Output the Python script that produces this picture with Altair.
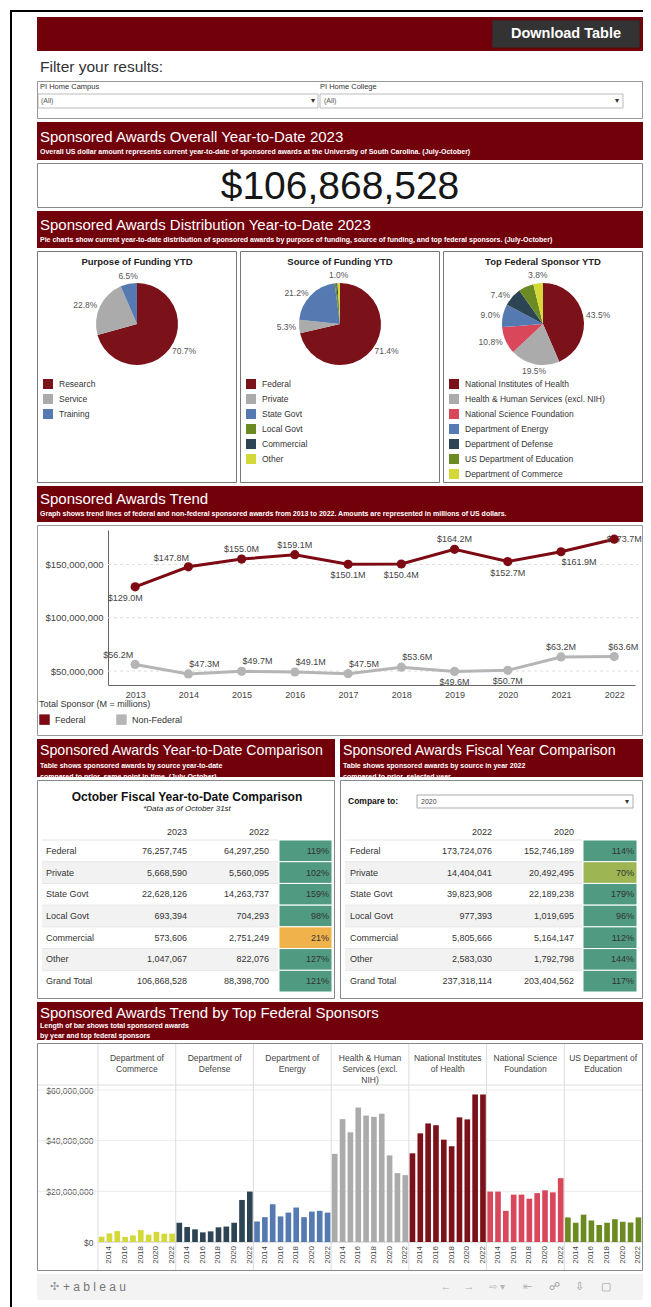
import altair as alt
import pandas as pd

FONT = "Liberation Sans"
MAROON = "#72000b"
TXT = "#333333"
W = 606

# ---------------- data ----------------
overall_ytd = "$106,868,528"

purpose_cats = ["Research", "Service", "Training"]
purpose_pct = [70.7, 22.8, 6.5]
purpose_hidden = []

source_cats = ["Federal", "Private", "State Govt", "Local Govt", "Commercial", "Other"]
source_pct = [71.4, 5.3, 21.2, 0.6, 0.5, 1.0]
source_hidden = ["Local Govt", "Commercial"]

sponsor_cats = ["National Institutes of Health", "Health & Human Services (excl. NIH)",
                "National Science Foundation", "Department of Energy", "Department of Defense",
                "US Department of Education", "Department of Commerce"]
sponsor_pct = [43.5, 19.5, 10.8, 9.0, 7.4, 6.0, 3.8]
sponsor_hidden = ["US Department of Education"]

trend_years = list(range(2013, 2023))
federal_m = [129.0, 147.8, 155.0, 159.1, 150.1, 150.4, 164.2, 152.7, 161.9, 173.7]
nonfederal_m = [56.2, 47.3, 49.7, 49.1, 47.5, 53.6, 49.6, 50.7, 63.2, 63.6]
# label placement (style) for each point
fed_label_place = ["below_left", "above_left", "above", "above", "below", "below", "above", "below", "below_right", "right"]
nonfed_label_place = ["above_left", "above_right", "above_right", "above_right", "above_right", "above_right", "below", "below", "above", "above_right_s"]
place_offsets = {"above": (0, -10), "below": (0, 11), "above_left": (-17, -9), "above_right": (16, -10),
                 "below_left": (-10, 11), "below_right": (18, 10), "right": (10, 0), "above_right_s": (9, -10)}

table_rows = ["Federal", "Private", "State Govt", "Local Govt", "Commercial", "Other", "Grand Total"]
ytd_heads = ["2023", "2022"]
ytd_2023 = [76257745, 5668590, 22628126, 693394, 573606, 1047067, 106868528]
ytd_2022 = [64297250, 5560095, 14263737, 704293, 2751249, 822076, 88398700]
ytd_pct = [119, 102, 159, 98, 21, 127, 121]
fy_heads = ["2022", "2020"]
fy_2022 = [173724076, 14404041, 39823908, 977393, 5805666, 2583030, 237318114]
fy_2020 = [152746189, 20492495, 22189238, 1019695, 5164147, 1792798, 203404562]
fy_pct = [114, 70, 179, 96, 112, 144, 117]

bar_sponsors = ["Department of Commerce", "Department of Defense", "Department of Energy",
                "Health & Human Services (excl. NIH)", "National Institutes of Health",
                "National Science Foundation", "US Department of Education"]
bar_headers = ["Department of\nCommerce", "Department of\nDefense", "Department of\nEnergy",
               "Health & Human\nServices (excl.\nNIH)", "National Institutes\nof Health",
               "National Science\nFoundation", "US Department of\nEducation"]
bar_years = list(range(2013, 2023))
commerce_m = [2.1, 3.4, 4.3, 2.0, 2.6, 4.7, 2.9, 4.0, 3.3, 3.3]
defense_m = [7.6, 5.9, 5.0, 3.8, 4.2, 5.8, 6.1, 7.6, 16.6, 19.9]
energy_m = [8.1, 9.8, 14.9, 10.1, 11.6, 13.6, 9.8, 12.0, 12.3, 11.6]
hhs_m = [34.8, 48.5, 43.3, 53.1, 49.9, 49.4, 50.6, 34.2, 27.2, 26.4]
nih_m = [35.0, 42.9, 46.8, 46.1, 40.4, 37.8, 49.2, 48.4, 58.2, 58.2]
nsf_m = [19.9, 19.9, 12.3, 18.7, 18.7, 17.1, 19.3, 20.4, 19.6, 25.2]
education_m = [9.7, 7.6, 10.8, 8.5, 6.7, 7.6, 9.0, 8.0, 7.7, 9.7]
bar_values = [commerce_m, defense_m, energy_m, hhs_m, nih_m, nsf_m, education_m]

# ---------------- colours ----------------
C_RED = "#7b1119"
C_GRAY = "#ababab"
C_BLUE = "#5579b1"
C_OLIVE = "#6c8a22"
C_SLATE = "#2c4454"
C_YELLOW = "#d4d838"
C_PINK = "#d9475b"
C_GREEN = "#4f9a80"
C_LIME = "#9db552"
C_ORANGE = "#f0b24a"
purpose_colors = [C_RED, C_GRAY, C_BLUE]
source_colors = [C_RED, C_GRAY, C_BLUE, C_OLIVE, C_SLATE, C_YELLOW]
sponsor_colors = [C_RED, C_GRAY, C_PINK, C_BLUE, C_SLATE, C_OLIVE, C_YELLOW]
bar_colors = [C_YELLOW, C_SLATE, C_BLUE, C_GRAY, C_RED, C_PINK, C_OLIVE]
LINE_RED = "#7d0a12"
LINE_GRAY = "#b5b5b5"


# ---------------- helpers ----------------
def txt(text, x, y, size, color=TXT, weight="normal", align="left", baseline="middle",
        italic=False, clip=False, line_height=None):
    kw = dict(font=FONT, fontSize=size, color=color, fontWeight=weight, align=align, baseline=baseline)
    if italic:
        kw["fontStyle"] = "italic"
    if clip:
        kw["clip"] = True
    if line_height:
        kw["lineBreak"] = "\n"
        kw["lineHeight"] = line_height
    return alt.Chart(alt.Data(values=[{"t": text}])).mark_text(**kw).encode(
        text="t:N", x=alt.value(x), y=alt.value(y))


def rect(x, y, x2, y2, fill, stroke=None):
    kw = dict(fill=fill)
    if stroke:
        kw.update(stroke=stroke, strokeWidth=1)
    return alt.Chart(alt.Data(values=[{"a": 0}])).mark_rect(**kw).encode(
        x=alt.value(x), x2=alt.value(x2), y=alt.value(y), y2=alt.value(y2))


def hline(y, x, x2, color):
    return alt.Chart(alt.Data(values=[{"a": 0}])).mark_rule(color=color, strokeWidth=1).encode(
        y=alt.value(y), x=alt.value(x), x2=alt.value(x2))


def panel(layers, w, h, fill=None, stroke=None):
    vb = {}
    if fill:
        vb["fill"] = fill
    layers = list(layers)
    if stroke:
        # border drawn inside the panel so that it never widens the layout
        layers.append(rect(0.5, 0.5, w - 0.5, h - 0.5, "transparent", stroke=stroke))
    return alt.layer(*layers).properties(width=w, height=h, view=alt.ViewBackground(**vb))


def banner(title, sub, w, h, ty, sy, lh=9, tsize=15):
    return panel([txt(title, 3, ty, tsize, "white"),
                  txt(sub, 3, sy, 7, "white", "bold", baseline="top", clip=True, line_height=lh)],
                 w, h, fill=MAROON)


# ---------------- sections ----------------
blank = panel([txt("", 1, 1, 1)], W, 2)

top_banner = panel([rect(455, 3, 603, 31, "#333333", stroke="#5a1015"),
                    txt("Download Table", 529, 17, 14.5, "white", "bold", "center")], W, 34, fill=MAROON)

filter_title = panel([txt("Filter your results:", 3, 13, 15.5, TXT)], W, 24)

filter_box = panel([
    txt("PI Home Campus", 3, 6, 7.5, TXT),
    rect(1, 13, 281, 27, "white", stroke="#bbbbbb"),
    txt("(All)", 4, 20, 7, "#555555"),
    txt("▾", 276, 20, 8, "#333333", align="center"),
    txt("PI Home College", 283, 6, 7.5, TXT),
    rect(283, 13, 586, 27, "white", stroke="#bbbbbb"),
    txt("(All)", 287, 20, 7, "#555555"),
    txt("▾", 580, 20, 8, "#333333", align="center"),
], W, 38, stroke="#999999")

banner2 = banner("Sponsored Awards Overall Year-to-Date 2023",
                 "Overall US dollar amount represents current year-to-date of sponsored awards at the University of South Carolina. (July-October)",
                 W, 38, 15, 26)

number_box = panel([txt(overall_ytd, 303, 24, 39, "#161616", align="center")], W, 45, stroke="#888888")

banner3 = banner("Sponsored Awards Distribution Year-to-Date 2023",
                 "Pie charts show current year-to-date distribution of sponsored awards by purpose of funding, source of funding, and top federal sponsors. (July-October)",
                 W, 37, 14, 25)

# label groups around a pie: (name, align, baseline, test on mid fraction f)
pie_label_groups = [
    ("right", "left", "middle", "datum.f >= 0.04 && datum.f < 0.46"),
    ("bottom", "center", "top", "datum.f >= 0.46 && datum.f < 0.54"),
    ("left", "right", "middle", "datum.f >= 0.54 && datum.f < 0.96"),
    ("top", "center", "bottom", "datum.f < 0.04 || datum.f >= 0.96"),
]


def pie(title, cats, vals, colors, hidden):
    df = pd.DataFrame({"cat": cats, "pct": vals, "idx": list(range(len(cats)))})
    df["lab"] = ["" if c in hidden else f"{v:.1f}%" for c, v in zip(cats, vals)]
    enc = dict(theta=alt.Theta("pct:Q", stack=True), order=alt.Order("idx:Q"),
               x=alt.value(100), y=alt.value(73))
    arc = alt.Chart(df).mark_arc(outerRadius=41).encode(
        color=alt.Color("cat:N", scale=alt.Scale(domain=cats, range=colors),
                        legend=alt.Legend(orient="none", legendX=6, legendY=128, title=None,
                                          direction="vertical", symbolType="square", symbolSize=100,
                                          symbolStrokeWidth=0, labelFontSize=8.5, labelFont=FONT,
                                          labelColor=TXT, rowPadding=5, labelOffset=6, labelLimit=180)),
        **enc)
    labs = []
    for name, al, bl, test in pie_label_groups:
        labs.append(
            alt.Chart(df)
            .transform_joinaggregate(total="sum(pct)")
            .transform_window(cum="sum(pct)", sort=[alt.SortField("idx")], frame=[None, 0])
            .transform_calculate(f="(datum.cum - datum.pct / 2) / datum.total")
            .transform_calculate(show=f"({test}) ? datum.lab : ''")
            .mark_text(radius=44, align=al, baseline=bl, fontSize=8.5, color="#555555", font=FONT)
            .encode(text="show:N", **enc))
    t = txt(title, 100, 11, 9.5, "#222222", "bold", "center")
    return panel([arc] + labs + [t], 200, 232, stroke="#777777")


pies = alt.hconcat(
    pie("Purpose of Funding YTD", purpose_cats, purpose_pct, purpose_colors, purpose_hidden),
    pie("Source of Funding YTD", source_cats, source_pct, source_colors, source_hidden),
    pie("Top Federal Sponsor YTD", sponsor_cats, sponsor_pct, sponsor_colors, sponsor_hidden),
    spacing=3).resolve_scale(color="independent")

banner4 = banner("Sponsored Awards Trend",
                 "Graph shows trend lines of federal and non-federal sponsored awards from 2013 to 2022. Amounts are represented in millions of US dollars.",
                 W, 36, 13, 24)

# trend chart
trend_df = pd.DataFrame({
    "year": trend_years * 2,
    "series": ["Federal"] * len(trend_years) + ["Non-Federal"] * len(trend_years),
    "m": federal_m + nonfederal_m,
    "place": fed_label_place + nonfed_label_place,
})
trend_df["v"] = trend_df["m"] * 1e6
trend_df["lab"] = trend_df["m"].map(lambda m: f"${m:.1f}M")

tx = alt.X("year:Q", scale=alt.Scale(domain=[2012.49, 2022.39], range=[71, 598], nice=False, zero=False),
           axis=alt.Axis(values=trend_years, format="d", offset=-51, grid=False, ticks=False,
                         domainColor="#666666", labelFontSize=9, labelColor="#444444", labelPadding=5,
                         labelFont=FONT, title=None))
ty = alt.Y("v:Q", scale=alt.Scale(domain=[36.9e6, 182.3e6], range=[160, 5], nice=False, zero=False),
           axis=alt.Axis(values=[50e6, 100e6, 150e6], format="$,.0f", offset=-71, grid=False, ticks=False,
                         domainColor="#666666", labelFontSize=9.5, labelColor="#444444", labelPadding=5,
                         labelFont=FONT, title=None))
tcolor_scale = alt.Scale(domain=["Federal", "Non-Federal"], range=[LINE_RED, LINE_GRAY])

grid_df = pd.DataFrame({"v": [50e6, 100e6, 150e6]})
t_grid = alt.Chart(grid_df).mark_rule(color="#dddddd", strokeDash=[3, 3]).encode(
    y=ty, x=alt.value(71), x2=alt.value(605))
t_line = alt.Chart(trend_df).mark_line(strokeWidth=3).encode(
    x=tx, y=ty, detail="series:N", stroke=alt.Stroke("series:N", scale=tcolor_scale, legend=None))
t_labels = []
for name, (dx, dy) in place_offsets.items():
    t_labels.append(alt.Chart(trend_df).transform_filter(
        alt.FieldOneOfPredicate(field="place", oneOf=[name])).mark_text(
        dx=dx, dy=dy, fontSize=9, color="#444444", font=FONT).encode(x=tx, y=ty, text="lab:N"))
t_pts = alt.Chart(trend_df).mark_circle(size=85, opacity=1).encode(
    x=tx, y=ty,
    color=alt.Color("series:N", scale=tcolor_scale,
                    legend=alt.Legend(orient="none", legendX=2, legendY=175, direction="horizontal",
                                      title="Total Sponsor (M = millions)", titleFontSize=9,
                                      titleFontWeight="normal", titleColor=TXT, titleFont=FONT,
                                      titlePadding=5, symbolType="square", symbolSize=110,
                                      symbolStrokeWidth=0, labelFontSize=9, labelColor=TXT,
                                      labelFont=FONT, columnPadding=30, labelOffset=5)))
trend = panel([t_grid, t_line] + t_labels + [t_pts], W, 211, stroke="#999999")

table_banners = alt.hconcat(
    banner("Sponsored Awards Year-to-Date Comparison",
           "Table shows sponsored awards by source year-to-date\ncompared to prior, same point in time. (July-October)",
           298, 38, 12, 23, lh=11, tsize=14.2),
    banner("Sponsored Awards Fiscal Year Comparison",
           "Table shows sponsored awards by source in year 2022\ncompared to prior, selected year",
           303, 38, 12, 23, lh=11, tsize=14.2),
    spacing=5)


def table(width, v1, v2, pcts, heads, label_x, c1_x, c2_x, bg_x2, p_x1, p_x2, extras):
    df = pd.DataFrame({"row": table_rows, "a": v1, "b": v2, "p": pcts})
    df["i"] = list(range(len(df)))
    df["i1"] = df["i"] + 1
    df["mid"] = df["i"] + 0.5
    df["plab"] = df["p"].map(lambda p: f"{p}%")
    ys = alt.Scale(domain=[0, len(df)], range=[60, 212], nice=False, zero=False)
    base = alt.Chart(df)
    yi = alt.Y("i:Q", scale=ys, axis=None)
    ym = alt.Y("mid:Q", scale=ys, axis=None)
    bg = base.transform_filter("datum.i % 2 == 1").mark_rect(fill="#f2f2f2").encode(
        y=yi, y2="i1:Q", x=alt.value(5), x2=alt.value(bg_x2))
    seps = base.mark_rule(color="#e6e6e6").encode(
        y=alt.Y("i:Q", scale=ys, axis=None), x=alt.value(5), x2=alt.value(bg_x2))
    cells = base.mark_rect(stroke="white", strokeWidth=1).encode(
        y=yi, y2="i1:Q", x=alt.value(p_x1), x2=alt.value(p_x2),
        color=alt.Color("p:Q", scale=alt.Scale(type="threshold", domain=[50, 80],
                                               range=[C_ORANGE, C_LIME, C_GREEN]), legend=None))
    tk = dict(fontSize=9, color=TXT, font=FONT, baseline="middle")
    t_lab = base.mark_text(align="left", **tk).encode(y=ym, x=alt.value(label_x), text="row:N")
    t_a = base.mark_text(align="right", **tk).encode(y=ym, x=alt.value(c1_x), text=alt.Text("a:Q", format=","))
    t_b = base.mark_text(align="right", **tk).encode(y=ym, x=alt.value(c2_x), text=alt.Text("b:Q", format=","))
    t_p = base.mark_text(align="right", **tk).encode(y=ym, x=alt.value(p_x2 - 3), text="plab:N")
    hd = [txt(heads[0], c1_x, 52, 9, TXT, align="right"), txt(heads[1], c2_x, 52, 9, TXT, align="right")]
    return panel([bg, seps, cells, t_lab, t_a, t_b, t_p] + hd + extras, width, 219, stroke="#888888")


left_table = table(298, ytd_2023, ytd_2022, ytd_pct, ytd_heads, 9, 150, 232, 241, 242, 295, [
    txt("October Fiscal Year-to-Date Comparison", 150, 17, 12, "#111111", "bold", "center"),
    txt("*Data as of October 31st", 150, 29, 8, "#222222", italic=True, align="center"),
])
right_table = table(303, fy_2022, fy_2020, fy_pct, fy_heads, 10, 152, 234, 242, 243, 297, [
    txt("Compare to:", 8, 21, 8.5, "#111111", "bold"),
    rect(77, 15, 293, 28, "white", stroke="#aaaaaa"),
    txt("2020", 81, 21.5, 7, "#444444"),
    txt("▾", 287, 21.5, 8, "#333333", align="center"),
])
tables = alt.hconcat(left_table, right_table, spacing=5).resolve_scale(color="independent")

banner5 = banner("Sponsored Awards Trend by Top Federal Sponsors",
                 "Length of bar shows total sponsored awards\nby year and top federal sponsors",
                 W, 38, 11, 20, lh=10)

# bar chart
bars_df = pd.DataFrame([{"sponsor": s, "year": y, "m": m}
                        for s, vals in zip(bar_sponsors, bar_values)
                        for y, m in zip(bar_years, vals)])
bars_df["v"] = bars_df["m"] * 1e6
head_df = pd.DataFrame({"sponsor": bar_sponsors, "head": bar_headers})
bx_scale = alt.Scale(domain=bar_sponsors, range=[61, 605], paddingInner=0, paddingOuter=0)
bx = alt.X("sponsor:N", scale=bx_scale, axis=None)
bxo = alt.XOffset("year:O", scale=alt.Scale(paddingInner=0.28, paddingOuter=0.1))
by = alt.Y("v:Q", scale=alt.Scale(domain=[0, 60e6], range=[199, 47], nice=False),
           axis=alt.Axis(values=[0, 20e6, 40e6, 60e6], format="$,.0f", offset=-61, domain=False,
                         ticks=False, grid=False, labelPadding=5, labelFontSize=8.5,
                         labelColor="#555555", labelFont=FONT, title=None))
bgrid_df = pd.DataFrame({"v": [20e6, 40e6, 60e6]})
b_grid = alt.Chart(bgrid_df).mark_rule(color="#ececec").encode(y=by, x=alt.value(1), x2=alt.value(605))
b_zero = alt.Chart(pd.DataFrame({"v": [0]})).mark_rule(color="#c4c4c4").encode(
    y=by, x=alt.value(61), x2=alt.value(605))
b_head_line = hline(42, 1, 605, "#dddddd")
b_sep = alt.Chart(head_df).mark_rule(color="#dddddd").encode(
    x=alt.X("sponsor:N", scale=bx_scale, axis=None, bandPosition=0), y=alt.value(1), y2=alt.value(227))
b_bars = alt.Chart(bars_df).mark_bar().encode(
    x=bx, xOffset=bxo, y=by,
    color=alt.Color("sponsor:N", scale=alt.Scale(domain=bar_sponsors, range=bar_colors), legend=None))
b_head = alt.Chart(head_df).mark_text(baseline="top", align="center", lineBreak="\n", lineHeight=11,
                                       fontSize=8.5, color="#444444", font=FONT).encode(
    x=bx, y=alt.value(11), text="head:N")
b_years = alt.Chart(bars_df).transform_filter("datum.year % 2 == 0").mark_text(
    angle=270, align="right", baseline="middle", fontSize=8, color="#444444", font=FONT).encode(
    x=bx, xOffset=bxo, y=alt.value(203), text="year:N")
bars = panel([b_grid, b_head_line, b_sep, b_zero, b_bars, b_head, b_years], W, 228, stroke="#888888")

footer = panel([
    txt("✣", 13, 13, 11, "#9a9a9a"),
    txt("+ a b l e a u", 26, 13, 12, "#777777"),
    txt("←", 409, 13, 11, "#b5b5b5", align="center"),
    txt("→", 432, 13, 11, "#b5b5b5", align="center"),
    txt("⇨ ▾", 460, 13, 10, "#b5b5b5", align="center"),
    txt("⇤", 490, 13, 11, "#b5b5b5", align="center"),
    txt("☍", 517, 13, 11, "#9a9a9a", align="center"),
    txt("⇩", 542, 13, 11, "#9a9a9a", align="center"),
    txt("▢", 569, 13, 11, "#9a9a9a", align="center"),
], W, 26, fill="#f3f3f3")

content = alt.vconcat(blank, top_banner, filter_title, filter_box, banner2, number_box, banner3, pies,
                      banner4, trend, table_banners, tables, banner5, bars, footer,
                      spacing=3).resolve_scale(color="independent")

left_line = panel([txt("", 1, 1, 1)], 2, 1295, fill="#000000")
top_line = panel([txt("", 1, 1, 1)], 633, 2, fill="#000000")

row = alt.hconcat(left_line, content, spacing=25).resolve_scale(color="independent")
chart = alt.vconcat(top_line, row, spacing=0).resolve_scale(color="independent").properties(
    padding={"left": 2, "top": 2, "right": 0, "bottom": 0}
).configure(font=FONT, background="white").configure_view(strokeWidth=0)

chart.save("out.html", embed_options={"renderer": "svg", "actions": False})
